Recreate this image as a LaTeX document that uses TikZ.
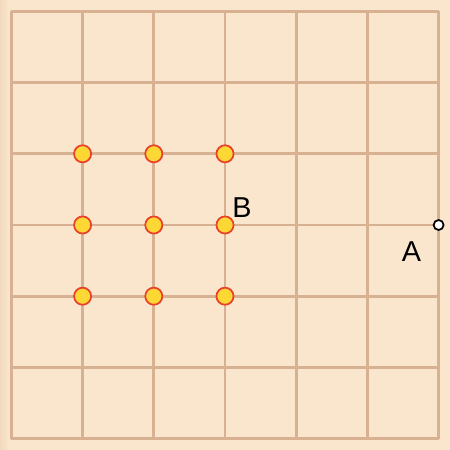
\documentclass[tikz,border=0pt]{standalone}
\usepackage{fontspec}
\setmainfont{Liberation Sans}
\definecolor{paper}{HTML}{FAE6CC}
\definecolor{gridline}{HTML}{D8B092}
\definecolor{dotfill}{HTML}{FDD835}
\definecolor{dotline}{HTML}{E8412C}

\begin{document}
\begin{tikzpicture}[
    dot/.style={circle, fill=dotfill, draw=dotline, line width=0.7pt, minimum size=0.24cm, inner sep=0pt},
    pin/.style={circle, fill=white, draw=black, line width=0.7pt, minimum size=0.14cm, inner sep=0pt},
    lab/.style={font=\fontsize{11.5}{13}\selectfont}
]
    \fill[paper] (-0.16,-0.16) rectangle (6.16,6.16);
    \shade[left color=gridline!25!paper, right color=paper] (-0.16,-0.16) rectangle (-0.04,6.16);
    \useasboundingbox (-0.16,-0.16) rectangle (6.16,6.16);

    % grid
    \foreach \k in {0,...,6} {
        \draw[gridline, line width=1.1pt] (\k,0) -- (\k,6);
        \draw[gridline, line width=1.1pt] (0,\k) -- (6,\k);
    }

    % points
    \foreach \x in {1,2,3} {
        \foreach \y in {2,3,4} {
            \node[dot] (p-\x-\y) at (\x,\y) {};
        }
    }
    \node[pin] (A) at (6,3) {};

    \node[lab, anchor=center] (labB) at (3.24,3.25) {B};
    \node[lab, anchor=center] (labA) at (5.62,2.63) {A};
\end{tikzpicture}
\end{document}
